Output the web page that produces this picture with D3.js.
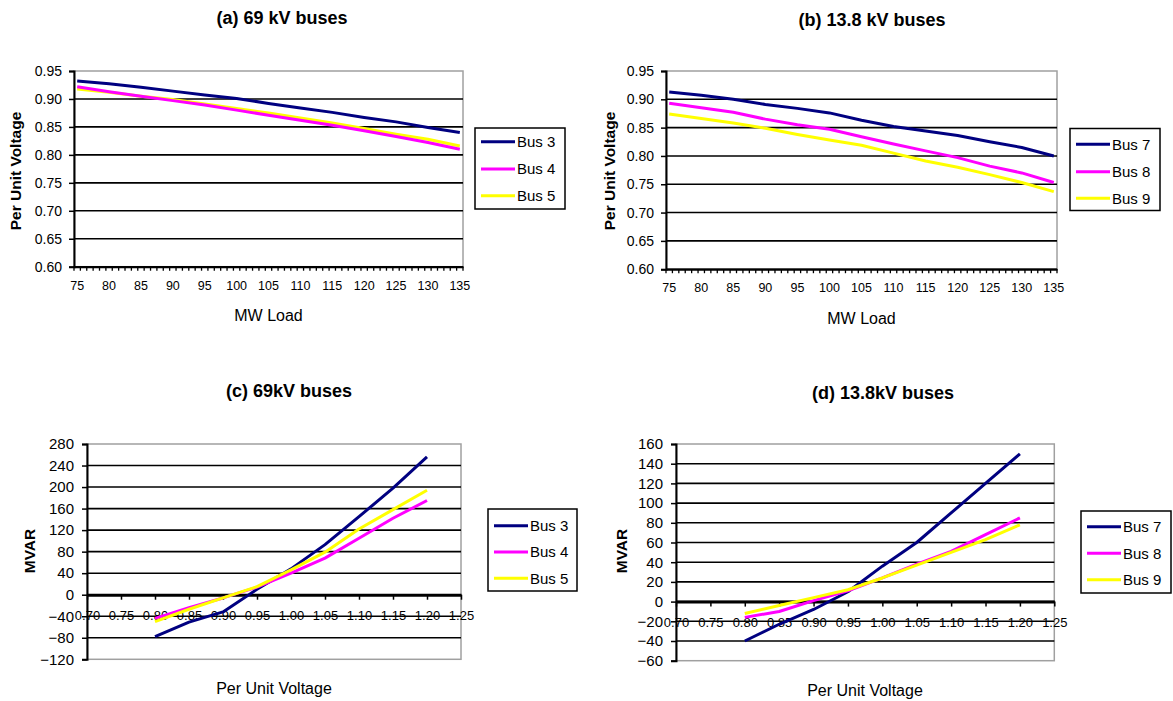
<!DOCTYPE html>
<html><head><meta charset="utf-8">
<script src="https://cdn.jsdelivr.net/npm/d3@7"></script>
<style>
body{margin:0;background:#fff}
svg text{font-family:Arial,"Liberation Sans",sans-serif;fill:#000}
</style></head>
<body><svg id="chart" width="1173" height="701"></svg>
<script>
// ---------- DATA ----------
const mwCategories = [75,76,77,78,79,80,81,82,83,84,85,86,87,88,89,90,91,92,93,94,95,96,97,98,99,100,101,102,103,104,105,106,107,108,109,110,111,112,113,114,115,116,117,118,119,120,121,122,123,124,125,126,127,128,129,130,131,132,133,134,135];
const mwLabels = [75,80,85,90,95,100,105,110,115,120,125,130,135];
const mwLoad = [75,80,85,90,95,100,105,110,115,120,125,130,135];
const voltTicks = [0.60,0.65,0.70,0.75,0.80,0.85,0.90,0.95];

const bus3Volt = [0.932,0.927,0.921,0.914,0.907,0.901,0.892,0.884,0.876,0.867,0.859,0.849,0.840];
const bus4Volt = [0.922,0.913,0.905,0.897,0.889,0.880,0.871,0.862,0.853,0.843,0.833,0.822,0.810];
const bus5Volt = [0.918,0.912,0.905,0.899,0.891,0.883,0.875,0.866,0.857,0.847,0.837,0.828,0.816];

const bus7Volt = [0.913,0.907,0.900,0.891,0.884,0.876,0.863,0.852,0.844,0.836,0.825,0.815,0.800];
const bus8Volt = [0.893,0.885,0.877,0.865,0.855,0.847,0.834,0.821,0.809,0.797,0.782,0.770,0.753];
const bus9Volt = [0.874,0.866,0.858,0.849,0.838,0.828,0.819,0.805,0.791,0.780,0.767,0.753,0.737];

const puVoltage = [0.80,0.85,0.90,0.95,1.00,1.05,1.10,1.15,1.20];
const puTicks = [0.70,0.75,0.80,0.85,0.90,0.95,1.00,1.05,1.10,1.15,1.20,1.25];
const mvarTicksC = [-120,-80,-40,0,40,80,120,160,200,240,280];
const mvarTicksD = [-60,-40,-20,0,20,40,60,80,100,120,140,160];

const bus3Mvar = [-78,-51,-32,10,48,93,145,198,256];
const bus4Mvar = [-44,-24,-6,14,40,68,105,142,175];
const bus5Mvar = [-50,-27,-6,15,46,79,122,158,194];

const bus7Mvar = [-40,-23,-8,10,36,60,90,120,150];
const bus8Mvar = [-16,-10,1,11,24,38,51,68,85];
const bus9Mvar = [-12,-4,4,12,24,37,50,63,78];

const colors = {navy:"#000080", magenta:"#FF00FF", yellow:"#FFFF00"};

// ---------- DRAW ----------
const svg = d3.select("#chart");

function legend(g, box, series) {
  g.append("rect").attr("x", box.x).attr("y", box.y).attr("width", box.w).attr("height", box.h)
    .attr("fill", "#fff").attr("stroke", "#000").attr("stroke-width", 1.5);
  series.forEach((s, i) => {
    const yy = box.rows[i];
    g.append("line").attr("x1", box.x + 6).attr("x2", box.x + 40).attr("y1", yy).attr("y2", yy)
      .attr("stroke", s.color).attr("stroke-width", 3);
    g.append("text").attr("x", box.x + 42).attr("y", yy).attr("dy", "0.36em")
      .style("font-size", "15px").text(s.name);
  });
}

function titles(g, c) {
  g.append("text").attr("x", c.titleX).attr("y", c.titleY).attr("dy", "0.36em")
    .attr("text-anchor", "middle").style("font-size", "18px").style("font-weight", "bold").text(c.title);
  g.append("text").attr("transform", `translate(${c.yLabelX},${c.yLabelY}) rotate(-90)`)
    .attr("dy", "0.36em").attr("text-anchor", "middle")
    .style("font-size", "15.5px").style("font-weight", "bold").text(c.yLabel);
  g.append("text").attr("x", c.xLabelX).attr("y", c.xLabelY).attr("dy", "0.36em")
    .attr("text-anchor", "middle").style("font-size", "16px").text(c.xLabel);
}

function styleAxis(ax, fs) {
  ax.selectAll("text").style("font-size", fs).attr("fill", "#000");
  ax.selectAll("line").attr("stroke", "#000").attr("stroke-width", 1.5);
}

function voltPanel(c) {
  const g = svg.append("g");
  const x = d3.scaleBand().domain(mwCategories).range([c.left, c.right]);
  const y = d3.scaleLinear().domain([0.60, 0.95]).range([c.bottom, c.top]);
  g.append("rect").attr("x", c.left).attr("y", c.top).attr("width", c.right - c.left)
    .attr("height", c.bottom - c.top).attr("fill", "none").attr("stroke", "#a0a0a0").attr("stroke-width", 1.5);
  g.selectAll("line.grid").data(voltTicks.filter(v => v < 0.949)).join("line")
    .attr("x1", c.left).attr("x2", c.right).attr("y1", d => y(d)).attr("y2", d => y(d))
    .attr("stroke", "#000").attr("stroke-width", 1.6);
  const ya = g.append("g").attr("transform", `translate(${c.left},0)`)
    .call(d3.axisLeft(y).tickValues(voltTicks).tickFormat(d3.format(".2f")).tickSize(5).tickPadding(7));
  ya.select(".domain").attr("stroke", "#000").attr("stroke-width", 2);
  styleAxis(ya, "14px");
  const xa = g.append("g").attr("transform", `translate(0,${c.bottom})`)
    .call(d3.axisBottom(x).tickValues(mwLabels).tickSize(0).tickPadding(14));
  xa.select(".domain").attr("stroke", "#000").attr("stroke-width", 2);
  styleAxis(xa, "12.5px");
  const bounds = mwCategories.map(v => x(v)).concat([x(mwCategories[mwCategories.length - 1]) + x.bandwidth()]);
  g.selectAll("line.mt").data(bounds).join("line")
    .attr("x1", d => d).attr("x2", d => d).attr("y1", c.bottom).attr("y2", c.bottom + 4)
    .attr("stroke", "#000").attr("stroke-width", 1.3);
  const line = d3.line().x((d, i) => x(mwLoad[i]) + x.bandwidth() / 2).y(d => y(d));
  c.series.slice().reverse().forEach(s => {
    g.append("path").datum(s.values).attr("d", line).attr("fill", "none")
      .attr("stroke", s.color).attr("stroke-width", 3).attr("stroke-linejoin", "round");
  });
  legend(g, c.legend, c.series);
  titles(g, c);
}

function mvarPanel(c) {
  const g = svg.append("g");
  const x = d3.scaleLinear().domain([0.70, 1.25]).range([c.left, c.right]);
  const y = d3.scaleLinear().domain([c.ticks[0], c.ticks[c.ticks.length - 1]]).range([c.bottom, c.top]);
  g.append("rect").attr("x", c.left).attr("y", c.top).attr("width", c.right - c.left)
    .attr("height", c.bottom - c.top).attr("fill", "none").attr("stroke", "#a0a0a0").attr("stroke-width", 1.5);
  const top = c.ticks[c.ticks.length - 1];
  g.selectAll("line.grid").data(c.ticks.filter(v => v !== top && v !== c.ticks[0])).join("line")
    .attr("x1", c.left).attr("x2", c.right).attr("y1", d => y(d)).attr("y2", d => y(d))
    .attr("stroke", "#000").attr("stroke-width", 1.6);
  const ya = g.append("g").attr("transform", `translate(${c.left},0)`)
    .call(d3.axisLeft(y).tickValues(c.ticks).tickFormat(d3.format("d")).tickSize(5).tickPadding(8));
  ya.select(".domain").attr("stroke", "#000").attr("stroke-width", 2);
  styleAxis(ya, "15px");
  const xa = g.append("g").attr("transform", `translate(0,${y(0)})`)
    .call(d3.axisBottom(x).tickValues(puTicks).tickFormat(d3.format(".2f")).tickSize(5).tickSizeOuter(0).tickPadding(11));
  xa.select(".domain").attr("stroke", "#000").attr("stroke-width", 3);
  styleAxis(xa, "13px");
  const line = d3.line().x((d, i) => x(puVoltage[i])).y(d => y(d));
  c.series.forEach(s => {
    g.append("path").datum(s.values).attr("d", line).attr("fill", "none")
      .attr("stroke", s.color).attr("stroke-width", 3).attr("stroke-linejoin", "round");
  });
  legend(g, c.legend, c.series);
  titles(g, c);
}

voltPanel({
  left: 74, right: 463, top: 71, bottom: 266.7,
  series: [{name: "Bus 3", values: bus3Volt, color: colors.navy},
           {name: "Bus 4", values: bus4Volt, color: colors.magenta},
           {name: "Bus 5", values: bus5Volt, color: colors.yellow}],
  legend: {x: 475, y: 128, w: 90, h: 81, rows: [141.7, 169, 195.7]},
  title: "(a) 69 kV buses", titleX: 282, titleY: 17.5,
  yLabel: "Per Unit Voltage", yLabelX: 15, yLabelY: 171,
  xLabel: "MW Load", xLabelX: 268.5, xLabelY: 315
});
voltPanel({
  left: 666, right: 1057, top: 71, bottom: 269.2,
  series: [{name: "Bus 7", values: bus7Volt, color: colors.navy},
           {name: "Bus 8", values: bus8Volt, color: colors.magenta},
           {name: "Bus 9", values: bus9Volt, color: colors.yellow}],
  legend: {x: 1070, y: 128.5, w: 90, h: 82, rows: [144.3, 171.7, 198.3]},
  title: "(b) 13.8 kV buses", titleX: 872, titleY: 19.3,
  yLabel: "Per Unit Voltage", yLabelX: 609, yLabelY: 171,
  xLabel: "MW Load", xLabelX: 861.5, xLabelY: 318
});
mvarPanel({
  left: 87, right: 461, top: 444, bottom: 659.3, ticks: mvarTicksC,
  series: [{name: "Bus 3", values: bus3Mvar, color: colors.navy},
           {name: "Bus 4", values: bus4Mvar, color: colors.magenta},
           {name: "Bus 5", values: bus5Mvar, color: colors.yellow}],
  legend: {x: 488, y: 509, w: 89, h: 82, rows: [525.7, 552, 578.3]},
  title: "(c) 69kV buses", titleX: 289, titleY: 390.7,
  yLabel: "MVAR", yLabelX: 29, yLabelY: 551,
  xLabel: "Per Unit Voltage", xLabelX: 274, xLabelY: 688
});
mvarPanel({
  left: 676, right: 1054.3, top: 444, bottom: 660.7, ticks: mvarTicksD,
  series: [{name: "Bus 7", values: bus7Mvar, color: colors.navy},
           {name: "Bus 8", values: bus8Mvar, color: colors.magenta},
           {name: "Bus 9", values: bus9Mvar, color: colors.yellow}],
  legend: {x: 1081, y: 511, w: 90, h: 82, rows: [526.7, 553.3, 579.7]},
  title: "(d) 13.8kV buses", titleX: 883, titleY: 392.7,
  yLabel: "MVAR", yLabelX: 621, yLabelY: 551,
  xLabel: "Per Unit Voltage", xLabelX: 865, xLabelY: 690
});
</script></body></html>
